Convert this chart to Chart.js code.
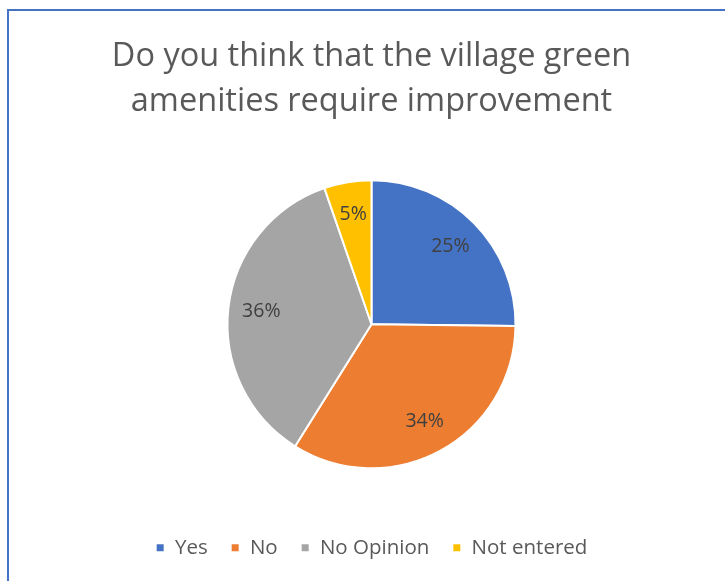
<!DOCTYPE html>
<html>
<head>
<meta charset="utf-8">
<script src="https://cdn.jsdelivr.net/npm/chart.js@4"></script>
<style>
  html, body { margin: 0; padding: 0; background: #fff; }
  #wrap { position: relative; width: 725px; height: 581px; overflow: hidden; }
  #frame { position: absolute; left: 7px; top: 9px; right: -10px; bottom: -10px;
           border-left: 2px solid #4472C4; border-top: 2px solid #4472C4; }
  canvas { position: absolute; left: 0; top: 0; }
</style>
</head>
<body>
<div id="wrap">
  <div id="frame"></div>
  <canvas id="pieChart" width="725" height="581"></canvas>
</div>
<script>
// Survey answers (share of responses, %)
const categories = ['Yes', 'No', 'No Opinion', 'Not entered'];
const shares = [25.2, 33.7, 35.8, 5.3];
const sliceColors = ['#4472C4', '#ED7D31', '#A5A5A5', '#FFC000'];
const titleLines = ['Do you think that the village green', 'amenities require improvement'];

// draws the percent labels inside each slice
const sliceLabels = {
  id: 'sliceLabels',
  afterDatasetsDraw(chart) {
    const ctx = chart.ctx;
    const meta = chart.getDatasetMeta(0);
    const total = shares.reduce((a, b) => a + b, 0);
    ctx.save();
    ctx.font = '19.5px "Open Sans"';
    ctx.fillStyle = '#404040';
    ctx.textAlign = 'center';
    ctx.textBaseline = 'middle';
    meta.data.forEach((arc, i) => {
      const mid = (arc.startAngle + arc.endAngle) / 2;
      const r = arc.outerRadius * 0.77;
      const x = arc.x + Math.cos(mid) * r;
      const y = arc.y + Math.sin(mid) * r;
      ctx.fillText(Math.round(shares[i] / total * 100) + '%', x, y);
    });
    ctx.restore();
  }
};

const ctx = document.getElementById('pieChart').getContext('2d');
const pieChart = new Chart(ctx, {
  type: 'pie',
  data: {
    labels: categories,
    datasets: [{
      data: shares,
      backgroundColor: sliceColors,
      borderColor: '#ffffff',
      borderWidth: 2,
      radius: 144
    }]
  },
  options: {
    responsive: false,
    animation: false,
    layout: {
      padding: { left: 18, right: 0, top: 0, bottom: 13 }
    },
    plugins: {
      title: {
        display: true,
        text: titleLines,
        color: '#595959',
        font: { family: 'Open Sans', size: 32.5, weight: 'normal', lineHeight: 1.385 },
        padding: { top: 34, bottom: 10 }
      },
      legend: {
        position: 'bottom',
        labels: {
          color: '#595959',
          font: { family: 'Open Sans', size: 20.5 },
          boxWidth: 9,
          boxHeight: 9,
          padding: 23
        }
      },
      tooltip: { enabled: false }
    }
  },
  plugins: [sliceLabels]
});
</script>
</body>
</html>
